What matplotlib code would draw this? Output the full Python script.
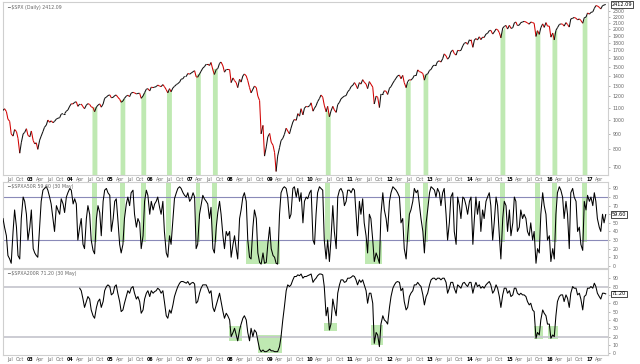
import numpy as np
import pandas as pd
import matplotlib
matplotlib.use('Agg')
import matplotlib.pyplot as plt
import matplotlib.dates as mdates
import matplotlib.transforms as mtransforms
from matplotlib.collections import LineCollection

# semi-monthly readings, May 2002 .. May 2017, plus the last close (30 May)
dates = pd.date_range('2002-05-01', '2017-05-15', freq='SMS').append(pd.DatetimeIndex(['2017-05-30']))

spx = (
    [1076, 1090, 1067, 1007, 990, 900, 885, 930, 916, 870, 777, 841, 900, 910, 936, 890] +
    [880, 920, 855, 834, 841, 800, 858, 885, 916, 946, 963, 1000, 983, 994, 980, 990, 1008, 1014, 1018, 1046, 1050, 1050, 1070, 1080] +
    [1112, 1132, 1131, 1145, 1149, 1110, 1130, 1130, 1107, 1090, 1121, 1133, 1126, 1106, 1100, 1065, 1105, 1120, 1131, 1103, 1130, 1180, 1191, 1205] +
    [1211, 1185, 1189, 1205, 1210, 1190, 1172, 1145, 1156, 1180, 1200, 1208, 1195, 1227, 1235, 1230, 1220, 1225, 1226, 1180, 1202, 1232, 1265, 1270] +
    [1248, 1285, 1280, 1285, 1290, 1305, 1295, 1290, 1310, 1290, 1260, 1230, 1270, 1240, 1278, 1292, 1310, 1320, 1335, 1365, 1370, 1396, 1396, 1425] +
    [1418, 1430, 1445, 1456, 1390, 1386, 1420, 1450, 1485, 1500, 1530, 1530, 1515, 1550, 1465, 1415, 1470, 1480, 1540, 1555, 1510, 1440, 1470, 1470] +
    [1468, 1330, 1378, 1350, 1330, 1280, 1365, 1335, 1400, 1420, 1400, 1350, 1280, 1230, 1265, 1295, 1280, 1200, 1160, 900, 960, 760, 815, 880] +
    [903, 845, 825, 780, 676, 760, 810, 855, 870, 895, 940, 920, 900, 940, 985, 1005, 998, 1050, 1030, 1090, 1040, 1095, 1110, 1105] +
    [1115, 1140, 1070, 1095, 1115, 1150, 1178, 1210, 1190, 1120, 1065, 1110, 1025, 1070, 1110, 1080, 1060, 1125, 1145, 1175, 1190, 1200, 1205, 1240] +
    [1260, 1290, 1305, 1330, 1305, 1270, 1330, 1315, 1360, 1335, 1315, 1270, 1340, 1315, 1285, 1130, 1200, 1190, 1100, 1220, 1220, 1250, 1245, 1215] +
    [1275, 1290, 1325, 1350, 1375, 1400, 1408, 1370, 1405, 1330, 1280, 1340, 1360, 1355, 1375, 1405, 1405, 1465, 1445, 1440, 1425, 1355, 1415, 1420] +
    [1460, 1470, 1510, 1520, 1520, 1560, 1570, 1555, 1595, 1655, 1630, 1590, 1615, 1680, 1705, 1660, 1640, 1700, 1695, 1700, 1760, 1795, 1805, 1780] +
    [1845, 1845, 1740, 1840, 1860, 1840, 1885, 1845, 1880, 1875, 1925, 1935, 1975, 1980, 1925, 1955, 2000, 1990, 1945, 1870, 2015, 2040, 2055, 2000] +
    [2058, 2010, 2020, 2095, 2110, 2055, 2060, 2100, 2110, 2120, 2110, 2095, 2075, 2110, 2100, 2090, 1890, 1975, 1920, 2020, 2080, 2025, 2100, 2045] +
    [2044, 1880, 1940, 1840, 1980, 2020, 2070, 2080, 2075, 2045, 2100, 2070, 2030, 2160, 2170, 2185, 2170, 2145, 2160, 2135, 2090, 2180, 2190, 2260] +
    [2240, 2270, 2280, 2340, 2390, 2385, 2360, 2330, 2390, 2400, 2412.09]
)

a50 = (
    [55, 45, 35, 12, 8, 3, 40, 65, 45, 12, 8, 55, 80, 75, 60, 30] +
    [45, 65, 20, 15, 12, 10, 45, 75, 88, 90, 92, 88, 80, 72, 55, 40, 70, 65, 60, 78, 72, 62, 80, 85] +
    [90, 88, 72, 78, 72, 30, 45, 55, 25, 20, 55, 70, 60, 30, 18, 14, 55, 70, 62, 35, 75, 88, 90, 85] +
    [82, 40, 55, 75, 78, 55, 25, 15, 25, 55, 72, 80, 70, 85, 88, 60, 45, 55, 50, 20, 35, 75, 88, 82] +
    [60, 75, 65, 72, 75, 80, 68, 60, 75, 40, 15, 10, 35, 25, 55, 78, 85, 90, 92, 90, 85, 82, 80, 85] +
    [75, 78, 85, 80, 20, 25, 60, 70, 82, 78, 75, 72, 55, 68, 20, 15, 45, 62, 75, 60, 35, 20, 40, 35] +
    [40, 10, 25, 35, 20, 8, 55, 65, 80, 85, 75, 30, 10, 8, 45, 65, 55, 15, 4, 2, 15, 3, 4, 25] +
    [45, 20, 12, 10, 3, 2, 60, 85, 90, 92, 90, 80, 55, 60, 90, 92, 80, 90, 75, 85, 50, 75, 80, 78] +
    [85, 88, 30, 25, 60, 85, 92, 90, 88, 30, 8, 30, 5, 30, 70, 40, 20, 80, 88, 90, 85, 70, 75, 88] +
    [88, 85, 90, 88, 62, 35, 75, 60, 78, 50, 35, 15, 60, 55, 30, 5, 15, 10, 3, 60, 85, 65, 55, 40] +
    [75, 85, 92, 90, 88, 85, 80, 50, 55, 20, 8, 35, 60, 65, 75, 90, 85, 88, 70, 55, 40, 15, 50, 65] +
    [85, 92, 90, 88, 80, 90, 85, 70, 85, 90, 60, 30, 50, 80, 85, 40, 25, 80, 70, 55, 80, 78, 70, 60] +
    [75, 80, 25, 55, 80, 60, 75, 40, 65, 55, 75, 80, 85, 70, 30, 50, 80, 70, 35, 8, 55, 75, 70, 40] +
    [65, 35, 50, 80, 75, 40, 45, 65, 55, 60, 55, 40, 35, 50, 30, 40, 3, 20, 15, 60, 85, 70, 60, 30] +
    [35, 5, 20, 8, 60, 85, 92, 88, 80, 55, 75, 60, 20, 85, 90, 80, 75, 40, 45, 25, 18, 75, 65, 82] +
    [75, 80, 70, 85, 75, 55, 45, 40, 60, 50, 59.6]
)

nan = np.nan
a200 = (
    [nan] * 16 +
    [nan] * 24 +
    [nan] * 6 + [78, 75, 65, 55, 62, 68, 65, 52, 45, 42, 55, 62, 65, 55, 62, 75, 80, 82] +
    [80, 70, 72, 80, 82, 72, 62, 50, 52, 60, 68, 75, 72, 78, 80, 72, 65, 68, 62, 48, 52, 65, 72, 75] +
    [68, 75, 72, 74, 75, 78, 76, 72, 75, 62, 45, 42, 52, 48, 58, 68, 75, 80, 84, 86, 86, 85, 84, 86] +
    [82, 84, 85, 83, 60, 62, 72, 78, 82, 82, 82, 78, 72, 75, 55, 50, 58, 65, 72, 62, 50, 42, 48, 45] +
    [40, 20, 25, 30, 22, 15, 28, 35, 42, 45, 40, 25, 15, 30, 20, 28, 25, 15, 5, 2, 4, 2, 2, 3] +
    [5, 3, 3, 2, 2, 2, 8, 20, 40, 55, 75, 82, 80, 82, 88, 92, 92, 94, 93, 95, 90, 92, 92, 93] +
    [94, 95, 85, 88, 90, 93, 95, 95, 94, 80, 45, 55, 28, 35, 65, 55, 45, 72, 82, 88, 88, 85, 86, 90] +
    [90, 91, 93, 92, 88, 82, 88, 85, 88, 82, 75, 60, 72, 72, 60, 12, 25, 22, 8, 35, 45, 40, 38, 35] +
    [55, 68, 78, 82, 85, 86, 85, 75, 78, 62, 52, 55, 68, 72, 75, 82, 82, 85, 82, 80, 70, 58, 68, 72] +
    [82, 88, 90, 90, 88, 90, 90, 88, 90, 90, 85, 72, 78, 85, 85, 78, 72, 82, 80, 78, 84, 85, 82, 80] +
    [85, 85, 72, 80, 85, 80, 82, 78, 80, 78, 82, 84, 86, 82, 72, 75, 82, 78, 68, 55, 70, 78, 78, 72] +
    [75, 68, 70, 78, 78, 72, 70, 72, 70, 70, 68, 62, 58, 60, 52, 50, 18, 25, 22, 40, 52, 48, 45, 35] +
    [35, 18, 22, 20, 45, 62, 68, 70, 70, 62, 70, 66, 55, 72, 80, 78, 78, 70, 72, 65, 52, 68, 70, 78] +
    [78, 80, 78, 84, 80, 72, 68, 65, 72, 72, 71.2]
)

# green highlight windows (market pullbacks)
band_start = ['2004-07-22', '2005-04-05', '2005-10-12', '2006-06-03', '2007-02-24', '2007-07-28',
              '2010-05-25', '2012-05-25', '2012-11-03', '2014-10-07', '2015-08-24', '2016-01-25', '2016-10-27']
band_end = ['2004-09-05', '2005-05-18', '2005-11-25', '2006-07-18', '2007-04-08', '2007-09-10',
            '2010-07-08', '2012-07-08', '2012-12-16', '2014-11-20', '2015-10-06', '2016-03-09', '2016-12-09']

# shaded boxes in the breadth panels: start, end, low, high
box50_start = ['2008-05-26', '2011-05-26']
box50_end = ['2009-04-10', '2011-10-28']
box50_lo = [2, 2]
box50_hi = [30, 30]

box200_start = ['2007-12-22', '2008-09-12', '2010-05-08', '2011-07-20', '2015-08-16', '2015-12-22']
box200_end = ['2008-04-20', '2009-04-28', '2010-09-12', '2011-11-06', '2015-11-06', '2016-03-24']
box200_lo = [15, 0, 27, 10, 17, 17]
box200_hi = [33, 22, 36, 34, 33, 33]

GREEN = '#bfe9b2'
GRAY = '#cfcfcf'
LAB = '#666666'

fig = plt.figure(figsize=(6.4, 3.64), dpi=100)
W, H = 640.0, 364.0
def add_ax(top, bottom):
    return fig.add_axes([3 / W, 1 - bottom / H, (608 - 3) / W, (bottom - top) / H])

ax1 = add_ax(2, 175)
ax2 = add_ax(182, 268)
ax3 = add_ax(269, 355)

xnum = mdates.date2num(dates)
x0 = mdates.date2num(pd.Timestamp('2002-05-01'))
x1 = mdates.date2num(pd.Timestamp('2017-06-20'))
spx_arr = np.array(spx, dtype=float)

# --- price panel
ax1.set_yscale('log')
ylo1, yhi1 = 658, 2457
for s, e in zip(band_start, band_end):
    sn, en = mdates.date2num(pd.Timestamp(s)), mdates.date2num(pd.Timestamp(e))
    top = np.interp([sn, en], xnum, spx_arr)
    ax1.fill_between([sn, en], ylo1, top, color=GREEN, lw=0, zorder=1)
pts = np.column_stack([xnum, spx_arr]).reshape(-1, 1, 2)
segs = np.concatenate([pts[:-1], pts[1:]], axis=1)
cols = ['#111111' if d >= 0 else '#d10000' for d in np.diff(spx_arr)]
ax1.add_collection(LineCollection(segs, colors=cols, linewidths=0.75, zorder=3))
ax1.set_ylim(ylo1, yhi1)
ax1.yaxis.set_major_locator(plt.FixedLocator(list(range(700, 2400, 100))))
ax1.yaxis.set_minor_locator(plt.NullLocator())

# --- % above 50 dma
for s, e in zip(band_start, band_end):
    ax2.axvspan(mdates.date2num(pd.Timestamp(s)), mdates.date2num(pd.Timestamp(e)),
                ymin=(28 + 2.5) / 100.0, ymax=1, color=GREEN, lw=0, zorder=1)
for s, e, lo, hi in zip(box50_start, box50_end, box50_lo, box50_hi):
    ax2.fill_between([pd.Timestamp(s), pd.Timestamp(e)], lo, hi, color=GREEN, lw=0, zorder=1)
ax2.axhline(80, color='#8a8ab8', lw=0.8, zorder=2)
ax2.axhline(30, color='#8a8ab8', lw=0.8, zorder=2)
ax2.plot(dates, a50, color='black', lw=0.75, zorder=3)
ax2.set_ylim(-2.5, 97.5)

# --- % above 200 dma
for s, e, lo, hi in zip(box200_start, box200_end, box200_lo, box200_hi):
    ax3.fill_between([pd.Timestamp(s), pd.Timestamp(e)], lo, hi, color=GREEN, lw=0, zorder=1)
ax3.axhline(80, color='#c4c4cc', lw=1.2, zorder=2)
ax3.axhline(20, color='#c4c4cc', lw=1.2, zorder=2)
ax3.plot(dates, a200, color='black', lw=0.75, zorder=3)
ax3.set_ylim(-2, 101)

for ax in (ax2, ax3):
    ax.yaxis.set_major_locator(plt.FixedLocator(list(range(0, 100, 10))))

# x ticks: quarters, year numbers in bold
qdates = pd.date_range('2002-07-01', '2017-04-01', freq='QS-JAN')
qlabels = [('%02d' % (d.year % 100)) if d.month == 1 else d.strftime('%b') for d in qdates]

for ax in (ax1, ax2, ax3):
    ax.set_xlim(x0, x1)
    ax.set_facecolor('white')
    for sp in ax.spines.values():
        sp.set_color(GRAY)
        sp.set_linewidth(0.8)
    ax.yaxis.tick_right()
    ax.tick_params(axis='y', which='both', length=1.5, width=0.5, color='#999999',
                   labelsize=3.4, labelcolor=LAB, pad=2)
    ax.set_xticks(mdates.date2num(qdates))
    ax.tick_params(axis='x', length=0, pad=1.5, labelsize=3.4, labelcolor=LAB)
    if ax is ax2:
        ax.set_xticklabels([])
    else:
        ax.set_xticklabels(qlabels)
        for t, d in zip(ax.get_xticklabels(), qdates):
            if d.month == 1:
                t.set_fontweight('bold')
                t.set_color('black')

ax1.set_yticklabels(['' if v == 2400 else '%d' % v for v in range(700, 2400, 100)])
ax2.set_yticklabels(['' if v == 60 else str(v) for v in range(0, 100, 10)])
ax3.set_yticklabels(['' if v == 70 else str(v) for v in range(0, 100, 10)])

# panel titles
ax1.text(0.006, 0.985, '━ $SPX (Daily) 2412.09', transform=ax1.transAxes, fontsize=3.4,
         color=LAB, va='top', ha='left', zorder=5)
ax2.text(0.006, 0.975, '━ $SPXA50R 59.60 (30 May)', transform=ax2.transAxes, fontsize=3.4,
         color=LAB, va='top', ha='left', zorder=5)
ax3.text(0.006, 0.975, '━ $SPXA200R 71.20 (30 May)', transform=ax3.transAxes, fontsize=3.4,
         color=LAB, va='top', ha='left', zorder=5)

# last-value tags
for ax, v, s in ((ax1, spx[-1], '2412.09'), (ax2, a50[-1], '59.60'), (ax3, a200[-1], '71.20')):
    tr = mtransforms.blended_transform_factory(ax.transAxes, ax.transData)
    ax.text(1.006, v, s, transform=tr, fontsize=3.6, color='black', va='center', ha='left',
            bbox=dict(boxstyle='square,pad=0.15', fc='white', ec='black', lw=0.5), clip_on=False)

fig.savefig('out.png', dpi=100)
